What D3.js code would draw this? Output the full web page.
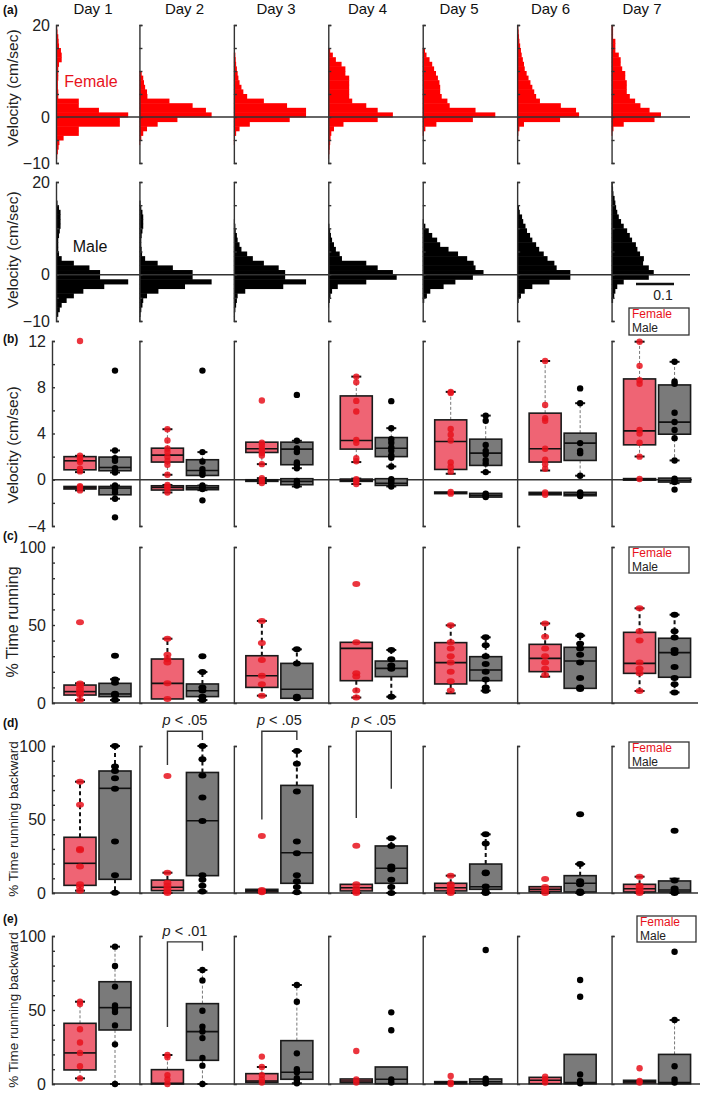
<!DOCTYPE html>
<html><head><meta charset="utf-8">
<script src="https://cdn.jsdelivr.net/npm/d3@7"></script>
<style>body{margin:0;background:#fff} svg{display:block;font-family:"Liberation Sans",Arial,sans-serif}</style>
</head><body><svg id="c" width="709" height="1095"></svg>
<script>
// ---------------- DATA ----------------
const days = ["Day 1","Day 2","Day 3","Day 4","Day 5","Day 6","Day 7"];
const sexes = ["Female","Male"];
const binStarts = [-10,-9,-8,-7,-6,-5,-4,-3,-2,-1,0,1,2,3,4,5,6,7,8,9,10,11,12,13,14,15,16,17,18,19];

// Panel (a): velocity histograms (probability per 1 cm/sec bin)
const histFemale = [
 [0.002,0.003,0.005,0.007,0.009,0.02,0.06,0.06,0.168,0.168, 0.19,0.113,0.06,0.06,0.006,0.006,0.005,0.005,0.006,0.006, 0.006,0.008,0.015,0.015,0.013,0.008,0.007,0.006,0.004,0.003],
 [0,0,0,0,0.002,0.005,0.01,0.02,0.048,0.10, 0.19,0.175,0.14,0.079,0.021,0.02,0.015,0.012,0.01,0.006, 0,0,0,0,0,0,0,0,0,0],
 [0,0,0,0,0.002,0.003,0.006,0.015,0.042,0.147, 0.19,0.19,0.14,0.079,0.035,0.025,0.02,0.015,0.012,0.01, 0.008,0.006,0.005,0.004,0,0,0,0,0,0],
 [0,0.002,0.003,0.004,0.005,0.006,0.008,0.015,0.04,0.13, 0.17,0.13,0.10,0.063,0.055,0.055,0.055,0.055,0.055,0.045, 0.045,0.035,0.02,0.012,0.005,0,0,0,0,0],
 [0,0,0,0,0,0,0.003,0.007,0.036,0.132, 0.191,0.139,0.071,0.065,0.05,0.046,0.046,0.044,0.04,0.035, 0.03,0.025,0.018,0.01,0.006,0,0,0,0,0],
 [0,0,0,0,0,0,0.003,0.006,0.018,0.113, 0.163,0.155,0.115,0.06,0.05,0.045,0.04,0.035,0.03,0.025, 0.02,0.018,0.015,0.012,0.01,0.008,0.006,0.005,0.004,0.003],
 [0,0,0,0,0,0,0.002,0.005,0.032,0.113, 0.13,0.1,0.076,0.062,0.048,0.04,0.04,0.04,0.036,0.036, 0.028,0.024,0.024,0.019,0.01,0.01,0.01,0.004,0.004,0.004]
];
const histMale = [
 [0.003,0.006,0.01,0.015,0.028,0.047,0.072,0.127,0.19,0.116, 0.116,0.088,0.047,0.015,0.008,0.006,0.006,0.006,0.008,0.01, 0.012,0.012,0.012,0.012,0.008,0.004,0,0,0,0],
 [0.002,0.003,0.005,0.008,0.01,0.02,0.05,0.12,0.19,0.14, 0.14,0.088,0.048,0.015,0.007,0.006,0.005,0.005,0.006,0.008, 0.01,0.01,0.01,0.008,0.005,0.003,0,0,0,0],
 [0.002,0.003,0.004,0.006,0.008,0.01,0.03,0.13,0.19,0.135, 0.135,0.118,0.079,0.05,0.035,0.02,0.015,0.01,0.008,0.005, 0.004,0.002,0,0,0,0,0,0,0,0],
 [0,0,0,0.002,0.004,0.006,0.01,0.025,0.1,0.18, 0.17,0.13,0.1,0.036,0.03,0.02,0.015,0.01,0.007,0.005, 0.003,0,0,0,0,0,0,0,0,0],
 [0,0,0,0,0.004,0.011,0.02,0.055,0.086,0.132, 0.16,0.139,0.134,0.117,0.093,0.068,0.046,0.038,0.025,0.016, 0.007,0.003,0,0,0,0,0,0,0,0],
 [0,0,0,0,0.004,0.01,0.02,0.04,0.085,0.14, 0.14,0.104,0.098,0.08,0.07,0.058,0.05,0.04,0.034,0.026, 0.022,0.016,0.013,0.007,0.005,0,0,0,0,0],
 [0,0,0,0,0.004,0.007,0.01,0.015,0.032,0.098, 0.111,0.098,0.083,0.085,0.075,0.068,0.064,0.054,0.048,0.041, 0.032,0.025,0.019,0.015,0.012,0.01,0.008,0.005,0.004,0.003]
];
const histTicks = [-10,-5,0,5,10,15,20];
const histTickLabels = [-10,0,20];
const scaleBarValue = 0.1;

// Box stats: [whiskerLow, q1, median, q3, whiskerHigh]
// Panel (b): velocity (cm/sec), forward & backward
const bFemFwdBox = [[0.66,0.86,1.64,2.0,2.07],[0.43,1.53,2.13,2.73,4.37],[1.35,2.36,2.68,3.25,3.25],[1.53,2.65,3.4,7.25,8.92],[0.52,0.89,3.31,5.18,7.6],[0.8,1.53,2.68,5.76,10.27],[2.01,3.02,4.23,8.72,11.94]];
const bFemFwdPts = [[12.0,2.07,1.87,1.7,1.53,0.95,0.72],[4.37,3.4,2.7,2.4,2.0,1.6,1.3,0.43],[6.85,3.2,3.0,2.7,2.5,2.3,2.1,1.35],[8.92,8.43,6.82,5.9,3.45,3.2,1.87,1.6],[7.6,7.5,4.4,3.9,3.4,1.5,1.1,0.7],[10.27,6.47,5.32,5.1,2.68,1.73,1.35,0.95],[11.94,9.85,8.6,8.3,4.3,4.0,3.2,2.0]];
const bFemBwdBox = [[-0.92,-0.8,-0.7,-0.58,-0.58],[-1.1,-0.89,-0.66,-0.52,-0.45],[-0.29,-0.14,-0.05,0.0,0.14],[-0.37,-0.14,-0.05,0.06,0.1],[-1.2,-1.2,-1.12,-1.06,-1.06],[-1.3,-1.3,-1.2,-1.09,-1.09],[-0.03,-0.03,0.03,0.1,0.1]];
const bFemBwdPts = [[-0.55,-0.65,-0.92],[-0.45,-0.6,-0.75,-1.1],[0.14,-0.09,-0.29],[0.05,-0.1,-0.37],[-1.06,-1.2],[-1.1,-1.3],[0.06]];
const bMaleFwdBox = [[0.63,0.78,1.06,1.96,2.53],[0.37,0.37,0.8,1.73,2.39],[1.0,1.3,2.65,3.25,3.37],[1.15,2.0,2.73,3.65,4.46],[0.66,1.24,2.3,3.51,5.55],[0.35,1.67,3.17,4.03,6.62],[1.67,3.94,4.98,8.2,10.2]];
const bMaleFwdPts = [[9.44,2.53,1.87,1.64,1.0,0.8,0.63],[9.44,2.39,1.58,0.92,0.63,0.43],[7.34,3.37,2.7,2.4,1.5,1.3,1.0],[6.8,4.46,3.5,3.2,2.8,2.5,2.1,1.9,1.15],[5.55,5.1,3.0,2.5,2.2,1.7,1.4,0.66],[7.9,6.62,3.17,2.5,2.3,0.35],[10.2,8.5,8.3,5.8,5.0,4.3,3.6,1.67]];
const bMaleBwdBox = [[-1.64,-1.3,-0.72,-0.58,-0.5],[-0.9,-0.86,-0.7,-0.52,-0.5],[-0.58,-0.43,-0.14,0.09,0.09],[-0.58,-0.49,-0.3,0.09,0.09],[-1.5,-1.5,-1.35,-1.18,-1.18],[-1.38,-1.38,-1.25,-1.09,-1.09],[-0.3,-0.2,-0.05,0.14,0.14]];
const bMaleBwdPts = [[-3.25,-0.5,-0.6,-0.7,-0.8,-1.1,-1.64],[-1.78,-0.5,-0.6,-0.7,-0.8],[-0.1,-0.3,-0.5],[0.05,-0.1,-0.3,-0.58],[-1.2,-1.3,-1.4,-1.5],[-1.1,-1.2,-1.4],[0.1,-0.1,-0.2,-0.85]];
const bTicks = [-4,-2,0,2,4,6,8,10,12];
const bTickLabels = [-4,0,4,8,12];

// Panel (c): % time running
const cFemBox = [[1.9,5.1,7.3,11.5,12.6],[2.6,2.6,12.6,28.2,41.2],[4.7,10,17.5,30.3,52.6],[3.5,14.3,35,38.9,38.9],[6.2,12.2,25.9,38.7,49.8],[16.9,20.1,28.6,37.6,51],[7.7,19,25.4,45.3,60.7]];
const cFemPts = [[51.7,12.5,11,9,7,5.5,1.9],[41.2,31,28,26,12.6,2.6],[52.6,38.5,27.6,17.5,12,4.7],[76.3,38.9,19,17,8,3.5],[49.8,39,35,30,26,20,14,8],[51,42.5,35,30,26,22,18],[60.7,46,40,26,22,19,7.7]];
const cMaleBox = [[1.9,4.1,5.8,12.6,15.2],[1.9,4.1,7.9,12.2,19.9],[3,3,8.8,25.4,34.4],[4,16.9,22.2,26.9,34],[7.9,14.3,21.2,29.7,42.1],[9.4,9.4,26.9,35.7,43.2],[6.8,16.5,32.3,41.5,56.6]];
const cMalePts = [[30.3,15,13,6,5,1.9],[30,19.9,10,8,4,1.9],[34.4,25.4,4,3],[34,28,24,22,4],[42.1,37,30,25,20,15,10,7.9],[43.2,38,35,31,26,16,10,9],[56.6,46,42,34,32,23,16,12,6.8]];
const pctTicks = [0,10,20,30,40,50,60,70,80,90,100];
const pctTickLabels = [0,50,100];

// Panel (d): % time running backward
const dFemBox = [[1.6,5.2,20.2,37.9,75.7],[0,1.6,3.9,8.8,13.8],[0.5,0.7,1.5,2.5,2.5],[0,1.4,3.6,5.9,5.9],[0,1.4,3.6,6.6,11.8],[0,0.9,2.5,4.3,4.3],[0,0.7,2.9,5.9,11.1]];
const dFemPts = [[75.7,60,30,29,18,6,4,1.6],[79.6,13.8,7,5,3,1,0],[38.8,2,1,0.5],[32.2,6,3,1,0],[11.8,6,4,2,1,0],[9.5,4,2,0],[11.1,5,3,1,0]];
const dMaleBox = [[0.2,9.3,71.2,83,100],[1,11.8,49.2,82,100],[0.2,6.6,27.4,73.2,96.6],[0,6.6,16.8,32,37.2],[0,2.5,4.3,19.7,39.9],[0,0.7,6.6,11.8,19.7],[0,0.7,2,8.2,9.75]];
const dMalePts = [[100,86,83,78,71,35,12,0.2],[100,91,80,65,49,12,9,5,1],[96.6,88,69,35,27,12,8,4,0.5],[37.2,32,18,16,9,4,0],[39.9,33.6,14,13.5,4.5,1,0],[53.5,19.7,8,6,1,0],[42.4,8.5,3,1,0]];
const dSigDays = ["Day 2","Day 3","Day 4"];
const dSigText = ["< .05","< .05","< .05"];
const dSigLegs = [[87,104],[50,104],[51,71]];
const dSigTop = 110;

// Panel (e): % time running backward
const eFemBox = [[3.8,9.5,21,41,55.6],[0,0,0.5,9.7,19.6],[1.1,1.1,2,7,11.5],[0.9,0.9,2,3.4,3.4],[0.2,0.2,0.8,1.6,1.6],[0.2,0.2,2.5,4.5,4.5],[0.7,0.7,1.5,2.5,2.5]];
const eFemPts = [[55.6,54,37,28,21,12,3.8],[19.6,18,6,3,0],[18.5,11.5,6,3,1],[22.3,3,1],[5.4,1,0],[5,3,1],[10.6,2,1]];
const eMaleBox = [[0,36.5,51.6,69.1,92.8],[0,16,35.4,54.3,77],[0.5,3.2,7.9,29.3,66.9],[0.2,0.2,3.2,11.5,11.5],[0.2,0.2,1.5,3.4,3.4],[0.2,0.2,0.9,20,20],[0.2,0.2,1,20,43.2]];
const eMalePts = [[92.8,79.7,65.8,53,50.9,48.6,39.6,26.8,0],[77,70,49.5,38.7,35.5,31,17.6,12.4,0],[66.9,55.6,20.7,10,8,4,2,0.5],[48.4,36.3,3,1],[90.5,3.5,2,0.5],[70.3,59,6.5,2,0.5],[89.4,43.2,12,3,1]];
const eSigDays = ["Day 2"];
const eSigText = ["< .01"];
const eSigLegs = [[38.5,90]];
const eSigTop = 96;

// ---------------- DRAWING ----------------
const svg = d3.select("#c");
const AX = "#333";
const RED = "#ff0000";
const FEM_FILL = "#ef6474", MALE_FILL = "#7a7a7a", FEM_DOT = "#e8121c";

const dayBand = d3.scaleBand().domain(days).range([45, 706]);
const axisXa = d => d === days[0] ? 56 : dayBand(d);
const axisXb = d => d === days[0] ? 52 : dayBand(d);
const sexPos = d3.scalePoint().domain(sexes).range([28, 63]);
const dayLabelX = d3.scalePoint().domain(days).range([93, 642]);
const xHist = d3.scaleLinear().domain([0, 0.1]).range([0, 38]);

const yAF = d3.scaleLinear().domain([-10, 20]).range([163, 25]);
const yAM = d3.scaleLinear().domain([-10, 20]).range([321, 182]);
const yB = d3.scaleLinear().domain([-4, 12]).range([526, 341]);
const yC = d3.scaleLinear().domain([0, 100]).range([703, 547]);
const yD = d3.scaleLinear().domain([0, 100]).range([893, 746]);
const yE = d3.scaleLinear().domain([0, 100]).range([1084, 936]);

function styleAxis(g) {
  g.selectAll("path,line").attr("stroke", AX).attr("stroke-width", 1.4);
  g.selectAll("text").attr("fill", "#222").style("font-size", "16px").style("font-family", "'Liberation Sans',Arial,sans-serif");
}
function leftAxis(x, y, ticks, labels) {
  const fmt = d3.format("d");
  const ax = d3.axisLeft(y).tickValues(ticks).tickSizeInner(-3).tickSizeOuter(-3).tickPadding(6)
    .tickFormat(d => labels.includes(d) ? fmt(d) : "");
  const g = svg.append("g").attr("transform", `translate(${x},0)`).call(ax);
  styleAxis(g);
}
function sepAxis(x, y, ticks) {
  const ax = d3.axisRight(y).tickValues(ticks).tickSizeInner(3).tickSizeOuter(3).tickFormat("");
  const g = svg.append("g").attr("transform", `translate(${x},0)`).call(ax);
  styleAxis(g);
}
function hLine(y0, x1, x2) {
  svg.append("line").attr("x1", x1).attr("x2", x2).attr("y1", y0).attr("y2", y0)
    .attr("stroke", AX).attr("stroke-width", 1.5);
}
function yTitle(text, cy, size) {
  svg.append("text").attr("transform", `translate(18,${cy}) rotate(-90)`).attr("text-anchor", "middle")
    .style("font-size", size + "px").attr("fill", "#222").text(text);
}
function panelLabel(text, y) {
  svg.append("text").attr("x", 3).attr("y", y).style("font-size", "12px").style("font-weight", "bold").attr("fill", "#111").text(text);
}
function legend(x, y, w, h) {
  svg.append("rect").attr("x", x).attr("y", y).attr("width", w).attr("height", h).attr("fill", "#fff").attr("stroke", AX).attr("stroke-width", 1.3);
  svg.append("text").attr("x", x + 3).attr("y", y + 10).style("font-size", "12px").attr("fill", "#e8121c").text(sexes[0]);
  svg.append("text").attr("x", x + 3).attr("y", y + 24).style("font-size", "12px").attr("fill", "#222").text(sexes[1]);
}

// ---- Panel (a) ----
panelLabel("(a)", 14);
svg.append("g").selectAll("text").data(days).join("text")
  .attr("x", d => dayLabelX(d)).attr("y", 14).attr("text-anchor", "middle")
  .style("font-size", "15px").attr("fill", "#111").text(d => d);

function drawHist(data, y, color) {
  days.forEach((d, i) => {
    const x0 = axisXa(d);
    const bins = binStarts.map((b, j) => ({ b, v: data[i][j] })).filter(e => e.v > 0);
    svg.append("g").selectAll("rect").data(bins).join("rect")
      .attr("x", x0).attr("y", e => y(e.b + 1)).attr("height", e => y(e.b) - y(e.b + 1) + 0.5)
      .attr("width", e => xHist(e.v)).attr("fill", color);
  });
}
drawHist(histFemale, yAF, RED);
drawHist(histMale, yAM, "#000");
days.forEach((d, i) => {
  if (i === 0) { leftAxis(axisXa(d), yAF, histTicks, histTickLabels); leftAxis(axisXa(d), yAM, histTicks, histTickLabels); }
  else { sepAxis(axisXa(d), yAF, histTicks); sepAxis(axisXa(d), yAM, histTicks); }
});
hLine(yAF(0), 56, 690);
hLine(yAM(0), 56, 690);
yTitle("Velocity (cm/sec)", 88, 15.5);
yTitle("Velocity (cm/sec)", 250, 15.5);
svg.append("text").attr("x", 91).attr("y", 87).attr("text-anchor", "middle").style("font-size", "16px").attr("fill", "#e8121c").text(sexes[0]);
svg.append("text").attr("x", 90).attr("y", 252).attr("text-anchor", "middle").style("font-size", "16px").attr("fill", "#111").text(sexes[1]);
// scale bar
svg.append("line").attr("x1", 636).attr("x2", 636 + xHist(scaleBarValue)).attr("y1", 284).attr("y2", 284).attr("stroke", "#111").attr("stroke-width", 2.5);
svg.append("text").attr("x", 663).attr("y", 300).attr("text-anchor", "middle").style("font-size", "14px").attr("fill", "#222").text(scaleBarValue);
legend(629, 308, 60, 27);

// ---- Box plot helper ----
function drawBoxes(boxes, pts, sex, y, opt) {
  const fill = sex === "Female" ? FEM_FILL : MALE_FILL;
  const dot = sex === "Female" ? FEM_DOT : "#000";
  const g = svg.append("g");
  days.forEach((d, i) => {
    const cx = axisXb(d) + sexPos(sex);
    const [lo, q1, med, q3, hi] = boxes[i];
    const w = 32, cw = 5;
    if (hi > q3) {
      g.append("line").attr("x1", cx).attr("x2", cx).attr("y1", y(q3)).attr("y2", y(hi))
        .attr("stroke", opt.wc).attr("stroke-width", opt.ww).attr("stroke-dasharray", opt.dash);
      g.append("line").attr("x1", cx - cw).attr("x2", cx + cw).attr("y1", y(hi)).attr("y2", y(hi)).attr("stroke", "#111").attr("stroke-width", 2);
    }
    if (lo < q1) {
      g.append("line").attr("x1", cx).attr("x2", cx).attr("y1", y(q1)).attr("y2", y(lo))
        .attr("stroke", opt.wc).attr("stroke-width", opt.ww).attr("stroke-dasharray", opt.dash);
      g.append("line").attr("x1", cx - cw).attr("x2", cx + cw).attr("y1", y(lo)).attr("y2", y(lo)).attr("stroke", "#111").attr("stroke-width", 2);
    }
    g.append("rect").attr("x", cx - w / 2).attr("y", y(q3)).attr("width", w).attr("height", Math.max(y(q1) - y(q3), 1.5))
      .attr("fill", fill).attr("stroke", "#1a1a1a").attr("stroke-width", 1.6);
    g.append("line").attr("x1", cx - w / 2).attr("x2", cx + w / 2).attr("y1", y(med)).attr("y2", y(med)).attr("stroke", "#111").attr("stroke-width", 1.6);
    g.selectAll(null).data(pts[i]).join("ellipse")
      .attr("cx", cx).attr("cy", v => y(v)).attr("rx", opt.rx).attr("ry", opt.ry)
      .attr("fill", dot).attr("fill-opacity", sex === "Female" ? 0.85 : 1);
  });
}
const thinW = { wc: "#777", ww: 1, dash: "3,2", rx: 3.2, ry: 3.2 };
const thickW = { wc: "#111", ww: 2, dash: "4,3", rx: 4, ry: 3 };

function sepAxes(y, labels, ticks, ends) {
  days.forEach((d, i) => {
    if (i === 0) leftAxis(axisXb(d), y, ticks, labels);
    else sepAxis(axisXb(d), y, ends);
  });
}

// ---- Panel (b) ----
panelLabel("(b)", 343);
sepAxes(yB, bTickLabels, bTicks, [12, -4]);
hLine(yB(0), 52, 692);
drawBoxes(bFemFwdBox, bFemFwdPts, "Female", yB, thinW);
drawBoxes(bFemBwdBox, bFemBwdPts, "Female", yB, thinW);
drawBoxes(bMaleFwdBox, bMaleFwdPts, "Male", yB, thinW);
drawBoxes(bMaleBwdBox, bMaleBwdPts, "Male", yB, thinW);
yTitle("Velocity (cm/sec)", 445, 15.5);

// ---- Panel (c) ----
panelLabel("(c)", 540);
sepAxes(yC, pctTickLabels, pctTicks, [100]);
hLine(yC(0), 52, 698);
drawBoxes(cFemBox, cFemPts, "Female", yC, thickW);
drawBoxes(cMaleBox, cMalePts, "Male", yC, thickW);
yTitle("% Time running", 622, 16);
legend(629, 547, 60, 26);

// ---- Significance brackets ----
function sig(daysL, texts, legs, top, y) {
  daysL.forEach((d, i) => {
    const xl = axisXb(d) + sexPos(sexes[0]), xr = axisXb(d) + sexPos(sexes[1]);
    svg.append("path").attr("d", `M${xl},${y(legs[i][0])}V${y(top)}H${xr}V${y(legs[i][1])}`)
      .attr("fill", "none").attr("stroke", AX).attr("stroke-width", 1.4);
    const t = svg.append("text").attr("x", (xl + xr) / 2).attr("y", y(top) - 6).attr("text-anchor", "middle")
      .style("font-size", "14.5px").attr("fill", "#222");
    t.append("tspan").style("font-style", "italic").text("p ");
    t.append("tspan").text(texts[i]);
  });
}

// ---- Panel (d) ----
panelLabel("(d)", 727);
sepAxes(yD, pctTickLabels, pctTicks, [100]);
hLine(yD(0), 52, 698);
drawBoxes(dFemBox, dFemPts, "Female", yD, thickW);
drawBoxes(dMaleBox, dMalePts, "Male", yD, thickW);
sig(dSigDays, dSigText, dSigLegs, dSigTop, yD);
yTitle("% Time running backward", 819, 13.5);
legend(629, 742, 60, 26);

// ---- Panel (e) ----
panelLabel("(e)", 923);
sepAxes(yE, pctTickLabels, pctTicks, [100]);
hLine(yE(0), 52, 700);
drawBoxes(eFemBox, eFemPts, "Female", yE, thinW);
drawBoxes(eMaleBox, eMalePts, "Male", yE, thinW);
sig(eSigDays, eSigText, eSigLegs, eSigTop, yE);
yTitle("% Time running backward", 1010, 13.5);
legend(637, 916, 59, 26);
</script></body></html>
